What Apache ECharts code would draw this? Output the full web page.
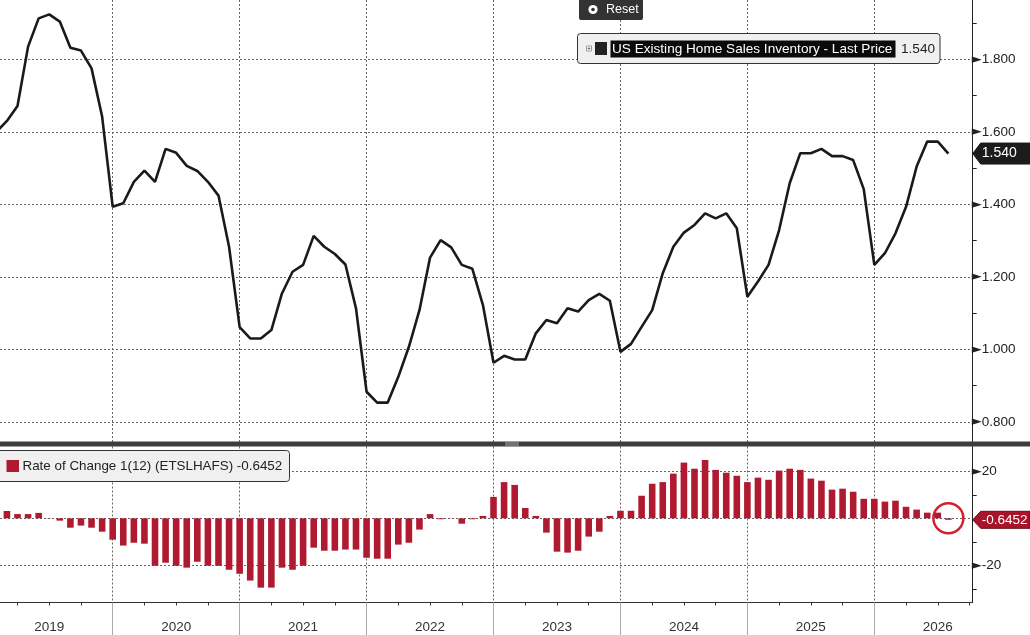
<!DOCTYPE html>
<html><head><meta charset="utf-8">
<script src="https://cdn.jsdelivr.net/npm/echarts@6/dist/echarts.min.js"></script>
<style>html,body{margin:0;padding:0;background:#fff;overflow:hidden}#c{width:1030px;height:635px}</style>
</head><body><div id="c"></div>
<script>
// Monthly data, Jan 2019 .. Jul 2026 (month index 1 = Jan 2019)
const startYear = 2019;
const inventory = [
  1.600, 1.630, 1.671, 1.835, 1.913, 1.924, 1.904, 1.832, 1.824, 1.775, 1.642, 1.393,
  1.403, 1.462, 1.493, 1.462, 1.553, 1.542, 1.506, 1.492, 1.462, 1.424, 1.283, 1.061,
  1.030, 1.030, 1.053, 1.154, 1.214, 1.233, 1.313, 1.283, 1.263, 1.234, 1.113, 0.883,
  0.853, 0.853, 0.924, 1.007, 1.108, 1.253, 1.301, 1.281, 1.233, 1.222, 1.122, 0.963,
  0.982, 0.972, 0.972, 1.044, 1.081, 1.072, 1.113, 1.104, 1.136, 1.153, 1.134, 0.993,
  1.015, 1.062, 1.108, 1.210, 1.283, 1.322, 1.343, 1.375, 1.361, 1.375, 1.334, 1.145,
  1.187, 1.233, 1.329, 1.458, 1.541, 1.541, 1.553, 1.533, 1.533, 1.522, 1.442, 1.233,
  1.265, 1.320, 1.393, 1.504, 1.573, 1.573, 1.540
];
const rateOfChange = [
  2.5, 3.1, 1.8, 1.8, 2.3, 0.1, -1.0, -4.0, -3.1, -4.0, -5.7, -9.1,
  -11.6, -10.4, -10.8, -20.2, -18.9, -20.2, -21.0, -18.5, -20.2, -20.2, -21.9, -23.6,
  -26.5, -29.5, -29.5, -21.0, -21.9, -20.2, -12.5, -13.8, -13.8, -13.3, -13.3, -16.8,
  -17.2, -17.2, -11.2, -10.4, -4.8, 1.8, -0.4, 0.1, -2.3, -0.4, 1.0, 9.1,
  15.4, 14.2, 4.4, 1.0, -6.1, -14.2, -14.6, -13.8, -7.8, -5.7, 1.0, 3.2,
  3.2, 9.6, 14.7, 15.4, 19.0, 23.7, 21.1, 24.8, 20.6, 19.4, 18.1, 15.4,
  17.3, 16.4, 20.3, 21.1, 20.6, 16.9, 16.0, 12.2, 12.6, 11.3, 8.3, 8.3,
  7.1, 7.5, 4.9, 3.7, 2.4, 2.4, -0.6452
];
const yearLabels = ['2019', '2020', '2021', '2022', '2023', '2024', '2025', '2026'];
const invTicks = [0.8, 1.0, 1.2, 1.4, 1.6, 1.8];
const invMinorTicks = [0.9, 1.1, 1.3, 1.5, 1.7, 1.9];
const rocTicks = [-20, 0, 20];
const rocLabels = [-20, 20];
const rocMinorTicks = [-30, -10, 10];
const lastInventory = '1.540';
const lastRoc = '-0.6452';
const legendTop = 'US Existing Home Sales Inventory - Last Price';
const legendBottom = 'Rate of Change 1(12) (ETSLHAFS) -0.6452';

// axis extents (visible window)
const XMIN = 1.346, XMAX = 93.30;
const INV_MIN = 0.7443, INV_MAX = 1.9636;
const ROC_MIN = -35.83, ROC_MAX = 30.55;

const lineData = inventory.map((v, k) => [k + 1, v]);
const barData = rateOfChange.map((v, k) => [k + 1, v]);
const yearBounds = yearLabels.slice(1).map((_, k) => 12 * (k + 1));
const yearMids = yearLabels.map((_, k) => 6 + 12 * k);
const quarterTicks = [];
for (let q = 3; q <= 93; q += 3) if (q % 12 !== 0) quarterTicks.push(q);

const FONT = 'Liberation Sans';
const dotted = { type: [2, 2], color: '#666', width: 1 };
const rich = {
  a: { fontFamily: 'DejaVu Sans', fontSize: 13, color: '#222', padding: [0, 0, 0, 0] },
  b: { fontFamily: FONT, fontSize: 13.5, color: '#222' }
};

const chart = echarts.init(document.getElementById('c'));
chart.setOption({
  animation: false,
  backgroundColor: '#fff',
  textStyle: { fontFamily: FONT },
  grid: [
    { left: 0, right: 57.3, top: 0, height: 442 },
    { left: 0, right: 57.3, top: 446.5, height: 156 }
  ],
  xAxis: [
    { gridIndex: 0, type: 'value', min: XMIN, max: XMAX,
      axisLine: { show: false }, axisTick: { show: false, customValues: yearBounds },
      axisLabel: { show: false }, splitLine: { show: true, lineStyle: dotted } },
    { gridIndex: 1, type: 'value', min: XMIN, max: XMAX, position: 'bottom',
      axisLine: { show: true, onZero: false, lineStyle: { color: '#333', width: 1 } },
      axisTick: { show: true, customValues: yearBounds, length: 33, lineStyle: { color: '#aaa' } },
      axisLabel: { show: true, customValues: yearMids, margin: 18,
        formatter: v => yearLabels[Math.round((v - 6) / 12)], color: '#333', fontSize: 13.5, fontFamily: FONT },
      splitLine: { show: true, lineStyle: dotted } },
    { gridIndex: 1, type: 'value', min: XMIN, max: XMAX, position: 'bottom', offset: 0,
      axisLine: { show: false, onZero: false },
      axisTick: { show: true, customValues: quarterTicks, length: 3, lineStyle: { color: '#333' } },
      axisLabel: { show: false }, splitLine: { show: false } }
  ],
  yAxis: [
    { gridIndex: 0, type: 'value', position: 'right', min: INV_MIN, max: INV_MAX,
      axisLine: { show: true, lineStyle: { color: '#222' } },
      axisTick: { show: false, customValues: invTicks },
      axisLabel: { show: true, customValues: invTicks, margin: -1,
        formatter: v => '{a|►}{b|' + v.toFixed(3) + '}', rich: rich },
      splitLine: { show: true, lineStyle: dotted } },
    { gridIndex: 0, type: 'value', position: 'right', offset: 0, min: INV_MIN, max: INV_MAX,
      axisLine: { show: false },
      axisTick: { show: true, customValues: invMinorTicks, length: 4, lineStyle: { color: '#222' } },
      axisLabel: { show: false }, splitLine: { show: false } },
    { gridIndex: 1, type: 'value', position: 'right', min: ROC_MIN, max: ROC_MAX,
      axisLine: { show: true, lineStyle: { color: '#222' } },
      axisTick: { show: false, customValues: rocTicks },
      axisLabel: { show: true, customValues: rocLabels, margin: -1,
        formatter: v => '{a|►}{b|' + String(v) + '}', rich: rich },
      splitLine: { show: true, lineStyle: dotted } },
    { gridIndex: 1, type: 'value', position: 'right', offset: 0, min: ROC_MIN, max: ROC_MAX,
      axisLine: { show: false },
      axisTick: { show: true, customValues: rocMinorTicks, length: 4, lineStyle: { color: '#222' } },
      axisLabel: { show: false }, splitLine: { show: false } }
  ],
  series: [
    { type: 'line', xAxisIndex: 0, yAxisIndex: 0, data: lineData, showSymbol: false,
      lineStyle: { color: '#1a1a1a', width: 2.6 }, itemStyle: { color: '#1a1a1a' }, z: 5 },
    { type: 'bar', xAxisIndex: 1, yAxisIndex: 2, data: barData, barWidth: 6.6,
      itemStyle: { color: '#b01a30' }, z: 5,
      markPoint: {
        symbol: 'circle', symbolSize: 30, silent: true,
        itemStyle: { color: 'rgba(0,0,0,0)', borderColor: '#d3202b', borderWidth: 2.5 },
        label: { show: false },
        data: [{ coord: [rateOfChange.length, 0] }]
      } }
  ]
});

// tags and overlays positioned through the chart scales
const xEdge = chart.convertToPixel({ xAxisIndex: 0 }, XMAX);
const yInv = chart.convertToPixel({ yAxisIndex: 0 }, parseFloat(lastInventory));
const yRoc = chart.convertToPixel({ yAxisIndex: 2 }, parseFloat(lastRoc));
const sepY = chart.convertToPixel({ yAxisIndex: 0 }, INV_MIN);

function tag(y, h, fill, stroke, text, fs) {
  return [
    { type: 'polygon', z: 100,
      shape: { points: [[xEdge, y], [xEdge + 8, y - h / 2], [1030, y - h / 2], [1030, y + h / 2], [xEdge + 8, y + h / 2]] },
      style: { fill: fill, stroke: stroke, lineWidth: 1 } },
    { type: 'text', z: 101, x: xEdge + 9, y: y,
      style: { text: text, fill: '#fff', font: fs + 'px "Liberation Sans"', textVerticalAlign: 'middle' } }
  ];
}

chart.setOption({
  graphic: [
    // panel separator
    { type: 'rect', z: 90, shape: { x: 0, y: sepY - 0.5, width: 1030, height: 5 }, style: { fill: '#3d3d3d' } },
    { type: 'line', z: 91, shape: { x1: 505, y1: sepY + 1, x2: 519, y2: sepY + 1 }, style: { stroke: '#aaa', lineWidth: 1 } },
    { type: 'line', z: 91, shape: { x1: 505, y1: sepY + 3, x2: 519, y2: sepY + 3 }, style: { stroke: '#aaa', lineWidth: 1 } },
    // Reset button
    { type: 'rect', z: 95, shape: { x: 579, y: -4, width: 64, height: 24, r: 2 }, style: { fill: '#333' } },
    { type: 'circle', z: 96, shape: { cx: 593, cy: 9.5, r: 4.6 }, style: { fill: '#fff' } },
    { type: 'circle', z: 97, shape: { cx: 593, cy: 9.5, r: 1.8 }, style: { fill: '#333' } },
    { type: 'text', z: 96, x: 606, y: 9.5, style: { text: 'Reset', fill: '#fff', font: '12.5px "Liberation Sans"', textVerticalAlign: 'middle' } },
    // top legend
    { type: 'rect', z: 95, shape: { x: 577.5, y: 33.5, width: 362.5, height: 30, r: 3 }, style: { fill: '#f0f0f0', stroke: '#333', lineWidth: 1 } },
    { type: 'rect', z: 96, shape: { x: 586.5, y: 46, width: 5, height: 5 }, style: { fill: '#fff', stroke: '#888', lineWidth: 0.8 } },
    { type: 'line', z: 97, shape: { x1: 587.5, y1: 48.5, x2: 590.5, y2: 48.5 }, style: { stroke: '#666', lineWidth: 0.8 } },
    { type: 'line', z: 97, shape: { x1: 589, y1: 47, x2: 589, y2: 50 }, style: { stroke: '#666', lineWidth: 0.8 } },
    { type: 'rect', z: 96, shape: { x: 595, y: 42, width: 12, height: 13 }, style: { fill: '#222' } },
    { type: 'rect', z: 96, shape: { x: 610.5, y: 40.5, width: 285, height: 17 }, style: { fill: '#0a0a0a' } },
    { type: 'text', z: 97, x: 612, y: 49.5, style: { text: legendTop, fill: '#fff', font: '13.6px "Liberation Sans"', textVerticalAlign: 'middle' } },
    { type: 'text', z: 97, x: 901, y: 49.5, style: { text: lastInventory, fill: '#222', font: '13.6px "Liberation Sans"', textVerticalAlign: 'middle' } },
    // bottom legend
    { type: 'rect', z: 95, shape: { x: -4, y: 450.5, width: 293.5, height: 31, r: 3 }, style: { fill: '#f0f0f0', stroke: '#333', lineWidth: 1 } },
    { type: 'rect', z: 96, shape: { x: 6.5, y: 460, width: 12.5, height: 12 }, style: { fill: '#b01a30' } },
    { type: 'text', z: 97, x: 22.5, y: 466.5, style: { text: legendBottom, fill: '#222', font: '13.4px "Liberation Sans"', textVerticalAlign: 'middle' } }
  ].concat(tag(yInv, 21, '#1c1c1c', '#1c1c1c', lastInventory, 14))
   .concat(tag(yRoc, 17, '#a8152b', '#6a0c18', lastRoc, 13.5))
});
</script>
</body></html>
